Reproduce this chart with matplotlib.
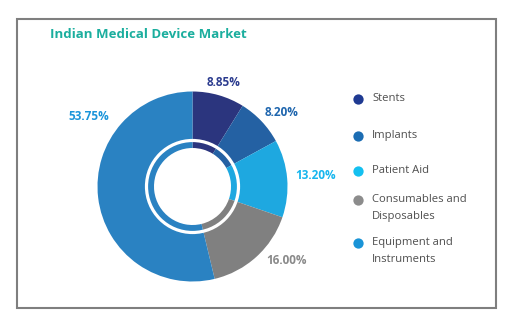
import matplotlib.pyplot as plt
from matplotlib.patches import Rectangle, Circle

# market share by segment
segments = ["Stents", "Implants", "Patient Aid", "Consumables and\nDisposables",
            "Equipment and\nInstruments"]
shares = [8.85, 8.20, 13.20, 16.00, 53.75]

wedge_colors = ["#2B357E", "#2461A3", "#1EA8E0", "#808080", "#2A82C2"]
label_colors = ["#2C3C8F", "#1F66AE", "#17B6EE", "#8A8A8A", "#1B95DA"]
legend_colors = ["#1F3A92", "#1C6DB3", "#14C0F0", "#8C8C8C", "#1A94D7"]

# where the percentage labels sit (pie data units)
label_xy = [(0.33, 1.10), (0.94, 0.78), (1.30, 0.12), (0.99, -0.78), (-1.09, 0.74)]
# legend row y positions (pixels from top)
legend_y = [99, 136, 171, 200, 243]

W, H = 517, 322
fig = plt.figure(figsize=(W / 100, H / 100), dpi=100)
plt.rcParams['font.family'] = ['Open Sans', 'DejaVu Sans']

# background layer in pixel coords: frame, title, legend
bg = fig.add_axes([0, 0, 1, 1])
bg.set_xlim(0, W)
bg.set_ylim(H, 0)
bg.axis('off')
bg.add_patch(Rectangle((17, 19), 479, 289, fill=False, edgecolor='#7F7F7F', linewidth=1.5))
bg.text(50, 34, "Indian Medical Device Market", color='#1BAE9E', fontsize=9.5,
        fontweight='bold', va='center', ha='left')

for i, name in enumerate(segments):
    bg.scatter(358, legend_y[i], s=55, color=legend_colors[i], linewidths=0, zorder=3)
    bg.text(372, legend_y[i] - 6.5, name, color='#4F4F4F', fontsize=8.1, va='top',
            ha='left', linespacing=1.75)

# donut
cx, cy, r = 192.5, 186.5, 95
ax = fig.add_axes([(cx - r) / W, (H - cy - r) / H, 2 * r / W, 2 * r / H])
wedges, _ = ax.pie(shares, colors=wedge_colors, startangle=90, counterclock=False,
                   radius=1, wedgeprops=dict(width=1 - 38.5 / r, linewidth=0))
ax.add_patch(Circle((0, 0), 46 / r, fill=False, edgecolor='white', linewidth=2.3))
ax.set_xlim(-1, 1)
ax.set_ylim(-1, 1)
ax.set_aspect('equal')

for i, v in enumerate(shares):
    ax.text(label_xy[i][0], label_xy[i][1], f"{v:.2f}%", color=label_colors[i],
            fontsize=8.5, fontweight='bold', ha='center', va='center')

fig.savefig("out.png", dpi=100)
